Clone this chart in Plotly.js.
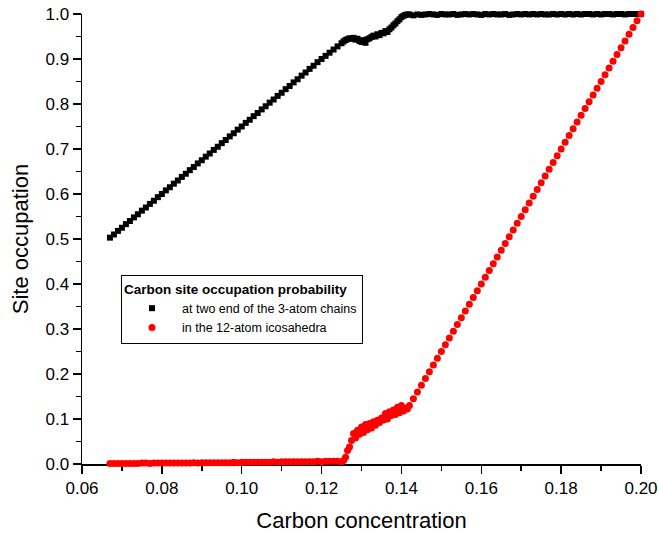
<!DOCTYPE html>
<html>
<head>
<meta charset="utf-8">
<script src="https://cdn.plot.ly/plotly-3.0.1.min.js"></script>
<style>html,body{margin:0;padding:0;background:#fff;}#chart{width:659px;height:533px;}</style>
</head>
<body>
<div id="chart"></div>
<script>
// Carbon concentration (x values)
var concentration = [
0.067,0.068,0.069,0.070,0.071,0.072,0.073,0.074,0.075,0.076,0.077,0.078,0.079,0.080,0.081,0.082,0.083,0.084,0.085,0.086,
0.087,0.088,0.089,0.090,0.091,0.092,0.093,0.094,0.095,0.096,0.097,0.098,0.099,0.100,0.101,0.102,0.103,0.104,0.105,0.106,
0.107,0.108,0.109,0.110,0.111,0.112,0.113,0.114,0.115,0.116,0.117,0.118,0.119,0.120,0.121,0.122,0.123,0.124,0.125,
0.1255,0.126,0.1265,0.127,0.1275,0.128,0.1285,0.129,0.1295,0.130,0.1305,0.131,0.1315,0.132,0.1325,0.133,0.1335,0.134,
0.1345,0.135,0.1355,0.136,0.1365,0.137,0.1375,0.138,0.1385,0.139,0.1395,0.140,0.1405,0.141,0.1415,
0.142,0.143,0.144,0.145,0.146,0.147,0.148,0.149,0.150,0.151,0.152,0.153,0.154,0.155,0.156,0.157,0.158,0.159,0.160,0.161,
0.162,0.163,0.164,0.165,0.166,0.167,0.168,0.169,0.170,0.171,0.172,0.173,0.174,0.175,0.176,0.177,0.178,0.179,0.180,0.181,
0.182,0.183,0.184,0.185,0.186,0.187,0.188,0.189,0.190,0.191,0.192,0.193,0.194,0.195,0.196,0.197,0.198,0.199,0.200
];
// Site occupation at the two ends of the 3-atom chains
var chainEnds = [
0.503,0.510,0.518,0.525,0.533,0.540,0.548,0.555,0.563,0.570,0.578,0.585,0.593,0.600,0.608,0.615,0.623,0.630,0.638,0.645,
0.653,0.660,0.668,0.675,0.683,0.690,0.698,0.705,0.713,0.720,0.728,0.735,0.743,0.750,0.758,0.765,0.773,0.780,0.788,0.795,
0.803,0.810,0.818,0.825,0.833,0.840,0.848,0.855,0.863,0.870,0.878,0.885,0.893,0.900,0.907,0.914,0.921,0.928,0.935,
0.939,0.942,0.944,0.946,0.945,0.947,0.943,0.945,0.940,0.938,0.942,0.936,0.944,0.946,0.949,0.952,0.950,0.955,
0.953,0.958,0.957,0.962,0.960,0.966,0.970,0.975,0.979,0.984,0.988,0.993,0.996,0.998,0.999,
0.999,0.997,0.999,0.998,0.999,1.000,0.999,0.998,1.000,0.999,0.999,1.000,0.998,0.999,1.000,0.999,1.000,0.999,0.998,1.000,
0.999,1.000,0.999,0.999,1.000,0.998,0.999,1.000,0.999,1.000,0.999,1.000,0.999,1.000,0.999,0.999,1.000,0.999,1.000,0.999,
1.000,0.999,1.000,0.999,1.000,1.000,0.999,1.000,0.999,1.000,1.000,0.999,1.000,1.000,0.999,1.000,1.000,1.000,1.000
];
// Site occupation in the 12-atom icosahedra
var icosahedra = [
0.001,0.001,0.001,0.001,0.001,0.001,0.001,0.001,0.002,0.002,0.001,0.002,0.002,0.002,0.002,0.002,0.002,0.002,0.002,0.002,
0.002,0.003,0.002,0.003,0.003,0.003,0.003,0.003,0.003,0.003,0.003,0.004,0.003,0.004,0.004,0.004,0.004,0.004,0.004,0.004,
0.004,0.005,0.004,0.005,0.005,0.005,0.005,0.005,0.005,0.005,0.005,0.005,0.006,0.005,0.006,0.006,0.006,0.006,0.005,
0.008,0.015,0.030,0.038,0.052,0.068,0.058,0.075,0.066,0.082,0.070,0.088,0.076,0.090,0.080,0.094,0.086,0.097,
0.092,0.102,0.098,0.112,0.100,0.116,0.108,0.120,0.110,0.126,0.114,0.130,0.118,0.124,0.122,
0.130,0.145,0.160,0.175,0.190,0.205,0.220,0.235,0.250,0.265,0.280,0.295,0.310,0.325,0.340,0.355,0.370,0.385,0.400,0.415,
0.430,0.445,0.460,0.475,0.490,0.505,0.520,0.535,0.550,0.565,0.580,0.595,0.610,0.625,0.640,0.655,0.670,0.685,0.700,0.715,
0.730,0.745,0.760,0.775,0.790,0.805,0.820,0.835,0.850,0.865,0.880,0.895,0.910,0.925,0.940,0.955,0.970,0.985,1.000
];
var seriesNames = ["at two end of the 3-atom chains", "in the 12-atom icosahedra"];
var legendTitle = "Carbon site occupation probability";
var xTitle = "Carbon concentration";
var yTitle = "Site occupation";

var FONT = "Liberation Sans, Arial, Helvetica, sans-serif";

var traces = [
  {x: concentration, y: chainEnds, name: seriesNames[0], type: "scatter", mode: "markers",
   cliponaxis: false, marker: {symbol: "square", size: 6, color: "#000000"}},
  {x: concentration, y: icosahedra, name: seriesNames[1], type: "scatter", mode: "markers",
   cliponaxis: false, marker: {symbol: "circle", size: 7, color: "#ff0000"}}
];

var layout = {
  width: 659, height: 533,
  margin: {l: 82, r: 18, t: 14, b: 69},
  paper_bgcolor: "#fff", plot_bgcolor: "#fff",
  font: {family: FONT, color: "#000"},
  showlegend: true,
  legend: {x: 0.0698, y: 0.42, xanchor: "left", yanchor: "top",
    bordercolor: "#000", borderwidth: 1, bgcolor: "#fff",
    font: {family: FONT, size: 12.5, color: "#000"},
    title: {text: legendTitle, font: {family: FONT, size: 13.5, weight: "bold", color: "#000"}},
    itemwidth: 50, tracegroupgap: 0},
  xaxis: {
    showgrid: false, zeroline: false, showline: true, linecolor: "#000", linewidth: 1.5,
    tickcolor: "#000", tickwidth: 1.5, layer: "below traces",
    range: [0.06, 0.2], tick0: 0.06, dtick: 0.02, tickformat: ".2f",
    ticks: "outside", ticklen: 8,
    minor: {dtick: 0.01, ticks: "outside", ticklen: 5, tickcolor: "#000", tickwidth: 1.5},
    tickfont: {family: FONT, size: 17, color: "#000"},
    title: {text: xTitle, font: {family: FONT, size: 22, color: "#000"}}
  },
  yaxis: {
    showgrid: false, zeroline: false, showline: true, linecolor: "#000", linewidth: 1.5,
    tickcolor: "#000", tickwidth: 1.5, layer: "below traces",
    range: [0, 1], tick0: 0, dtick: 0.1, tickformat: ".1f",
    ticks: "outside", ticklen: 8,
    minor: {dtick: 0.05, ticks: "outside", ticklen: 5, tickcolor: "#000", tickwidth: 1.5},
    tickfont: {family: FONT, size: 17, color: "#000"},
    title: {text: yTitle, font: {family: FONT, size: 22, color: "#000"}}
  },
  xaxis2: {
    showgrid: false, zeroline: false, showline: true, linecolor: "#000", linewidth: 1.5,
    tickcolor: "#000", tickwidth: 1.5, layer: "below traces",
    overlaying: "x", side: "top", anchor: "y",
    range: [0.06, 0.2], tick0: 0.06, dtick: 0.02, showticklabels: false,
    ticks: "inside", ticklen: 8,
    minor: {dtick: 0.01, ticks: "inside", ticklen: 5, tickcolor: "#000", tickwidth: 1.5}
  },
  yaxis2: {
    showgrid: false, zeroline: false, showline: true, linecolor: "#000", linewidth: 1.5,
    tickcolor: "#000", tickwidth: 1.5, layer: "below traces",
    overlaying: "y", side: "right", anchor: "x",
    range: [0, 1], tick0: 0, dtick: 0.1, showticklabels: false,
    ticks: "inside", ticklen: 8,
    minor: {dtick: 0.05, ticks: "inside", ticklen: 5, tickcolor: "#000", tickwidth: 1.5}
  }
};

Plotly.newPlot("chart", traces, layout, {displayModeBar: false, staticPlot: true});
</script>
</body>
</html>
